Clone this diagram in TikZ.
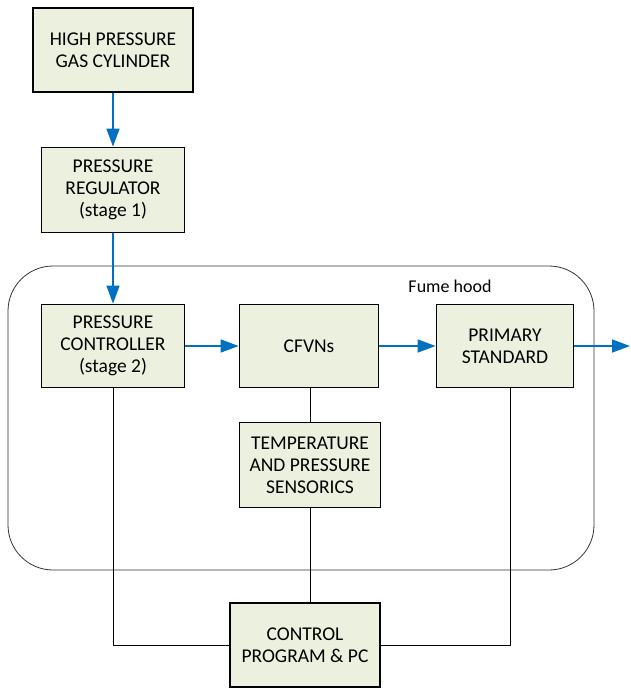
\documentclass[tikz,border=0pt]{standalone}
\usepackage{fontspec}
\setmainfont{Carlito}
\usetikzlibrary{arrows.meta,positioning,calc}
\definecolor{boxfill}{HTML}{EBF1DE}
\definecolor{flowblue}{HTML}{0070C0}
\tikzstyle{block} =[draw=black, fill=boxfill, line width=1.8pt,
                    align=center, font=\fontsize{19.5}{22}\selectfont,
                    inner sep=0pt]
\tikzstyle{flow}  =[draw=flowblue, line width=1.4pt,
                    -{Triangle[length=18pt,width=13pt]}]
\tikzstyle{wire}  =[draw=black, line width=1pt]
\tikzstyle{hood}  =[draw=black!80, line width=0.8pt, rounded corners=45pt]

\begin{document}
\begin{tikzpicture}[x=1pt, y=-1pt]
    \useasboundingbox (0,0) rectangle (630,688);
    % fume hood
    \draw[hood] (8,266) rectangle (594,570);
    \node (hoodlbl) [font=\fontsize{18}{20}\selectfont] at (450,286) {Fume hood};
    % blocks
    \node (gas) [block, minimum width=160pt, minimum height=84pt] at (113,50)
        {HIGH PRESSURE\\GAS CYLINDER};
    \node (reg) [block, minimum width=143pt, minimum height=85pt] at (113,190)
        {PRESSURE\\REGULATOR\\(stage 1)};
    \node (ctrl) [block, minimum width=143pt, minimum height=83pt] at (113,346)
        {PRESSURE\\CONTROLLER\\(stage 2)};
    \node (cfvn) [block, minimum width=139pt, minimum height=83pt] at (309,346)
        {CFVNs};
    \node (prim) [block, minimum width=137pt, minimum height=83pt] at (505,346)
        {PRIMARY\\STANDARD};
    \node (sens) [block, minimum width=141pt, minimum height=85pt] at (310,465)
        {TEMPERATURE\\AND PRESSURE\\SENSORICS};
    \node (pc) [block, minimum width=150pt, minimum height=84pt] at (305,645)
        {CONTROL\\PROGRAM \& PC};
    \coordinate (out) at (630,346);
    % gas flow
    \draw[flow] (gas) -- (reg);
    \draw[flow] (reg) -- (ctrl);
    \draw[flow] (ctrl) -- (cfvn);
    \draw[flow] (cfvn) -- (prim);
    \draw[flow] (prim) -- (out);
    % signal lines
    \draw[wire] (cfvn.south -| sens) -- (sens.north);
    \draw[wire] (sens.south) -- (sens.south |- pc.north);
    \draw[wire] (ctrl.south) |- (pc.west);
    \draw[wire] ($(prim.south)+(5,0)$) |- (pc.east);
\end{tikzpicture}
\end{document}
